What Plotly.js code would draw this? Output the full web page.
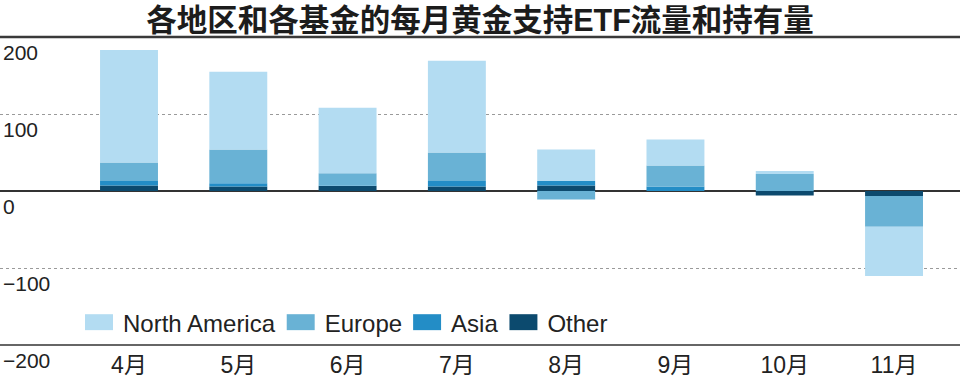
<!DOCTYPE html>
<html>
<head>
<meta charset="utf-8">
<script src="https://cdn.plot.ly/plotly-3.0.1.min.js"></script>
<style>
html,body{margin:0;padding:0;background:#fff;}
#chart{width:960px;height:377px;}
.legend .legendpoints path{transform:translate(20px,0px) scale(2.33,1.33) !important;}
</style>
</head>
<body>
<div id="chart"></div>
<script>
const months = ['4月','5月','6月','7月','8月','9月','10月','11月'];
const northAmerica = [146, 101, 85, 119, 41, 34, 4, -64];
const europe = [24, 44, 16, 37, -11, 27, 22, -40];
const asia = [6, 4, 0.5, 7, 6, 6, 0, 0];
const other = [7, 6, 6.5, 6, 7, 0, -6, -6.5];
const seriesNames = ['North America', 'Europe', 'Asia', 'Other'];
const yTickVals = [200, 100, 0, -100, -200];
const yTickText = ['200', '100', '0', '\u2212100', '\u2212200'];
const titleText = '各地区和各基金的每月黄金支持ETF流量和持有量';

const colors = {
  'North America': '#b3dcf2',
  'Europe': '#69b2d5',
  'Asia': '#238dc6',
  'Other': '#0c4a6e'
};
const valuesByName = {
  'North America': northAmerica,
  'Europe': europe,
  'Asia': asia,
  'Other': other
};
// stacking order from the baseline outward: Other, Asia, Europe, North America
const stackOrder = ['Other', 'Asia', 'Europe', 'North America'];
const traces = stackOrder.map(name => ({
  type: 'bar',
  name: name,
  x: months,
  y: valuesByName[name],
  width: 0.53,
  marker: {color: colors[name], line: {width: 0}},
  hoverinfo: 'skip'
}));

const font = "'Liberation Sans', Arial, sans-serif";
const annotations = yTickVals.map((v, i) => ({
  xref: 'paper', yref: 'y', x: 0, y: v,
  xanchor: 'left', yanchor: 'middle',
  xshift: 1, yshift: -15.5,
  text: yTickText[i], showarrow: false,
  font: {family: font, size: 21, color: '#222'}
}));

const layout = {
  width: 960, height: 377,
  margin: {l: 0, r: 0, t: 36.5, b: 31.5},
  paper_bgcolor: '#fff', plot_bgcolor: '#fff',
  barmode: 'relative',
  showlegend: true,
  title: {
    text: titleText,
    font: {family: "'Liberation Sans', 'Noto Sans CJK SC', sans-serif", size: 30.5, weight: 'bold', color: '#1c1c1c'},
    x: 0.5, xanchor: 'center', xref: 'container',
    y: 1 - 20/377, yanchor: 'middle', yref: 'container'
  },
  xaxis: {
    type: 'category',
    range: [-1.1804, 7.6036],
    showgrid: false, zeroline: false, showline: false,
    ticks: '',
    tickfont: {family: "'Liberation Sans', 'Noto Sans CJK SC', sans-serif", size: 23, color: '#222'},
    ticklabelstandoff: 4,
    fixedrange: true
  },
  yaxis: {
    range: [-200, 200],
    tickvals: yTickVals,
    showticklabels: false,
    ticks: '',
    showgrid: true, gridcolor: '#9a9a9a', griddash: 'dot', gridwidth: 1,
    zeroline: true, zerolinecolor: '#333', zerolinewidth: 1.6,
    showline: false,
    fixedrange: true
  },
  legend: {
    orientation: 'h',
    traceorder: 'reversed',
    itemwidth: 34,
    x: 79 / 960, xanchor: 'left',
    y: (345.5 - 323) / 309, yanchor: 'middle',
    bgcolor: 'rgba(0,0,0,0)',
    font: {family: font, size: 24, color: '#222'},
    itemclick: false, itemdoubleclick: false
  },
  shapes: [
    {type: 'line', xref: 'paper', yref: 'paper', x0: 0, x1: 1, y0: 1, y1: 1,
     line: {color: '#3a3a3a', width: 2.6}, layer: 'above'},
    {type: 'line', xref: 'paper', yref: 'paper', x0: 0, x1: 1, y0: 0, y1: 0,
     line: {color: '#333', width: 1.6}, layer: 'above'}
  ],
  annotations: annotations
};

Plotly.newPlot('chart', traces, layout, {displayModeBar: false, staticPlot: true});
</script>
</body>
</html>
